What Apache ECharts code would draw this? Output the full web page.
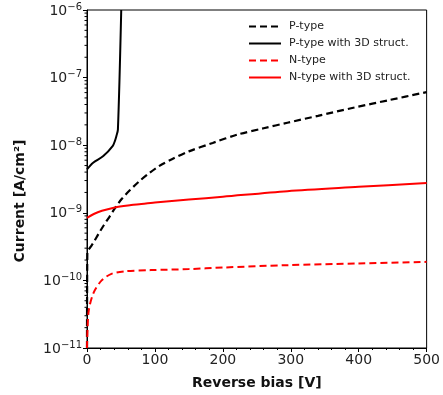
<!DOCTYPE html>
<html>
<head>
<meta charset="utf-8">
<script src="https://cdn.jsdelivr.net/npm/echarts@6/dist/echarts.min.js"></script>
<style>
html,body{margin:0;padding:0;background:#fff;}
#chart{width:443px;height:395px;}
</style>
</head>
<body>
<div id="chart"></div>
<script>
// ---- Data ----
const seriesNames = ['P-type', 'P-type with 3D struct.', 'N-type', 'N-type with 3D struct.'];

const pTypeV = [0, 0.5, 5, 10, 17, 25, 33, 41, 51, 63, 77, 90, 106, 125, 150, 185, 222, 260, 295, 340, 392, 445, 500];
const pTypeI = [1e-11, 2.6e-10, 3.1e-10, 3.7e-10, 4.9e-10, 6.6e-10, 8.7e-10, 1.16e-9, 1.6e-9, 2.15e-9, 2.93e-9, 3.75e-9, 4.9e-9, 6.2e-9, 8.1e-9, 1.08e-8, 1.44e-8, 1.78e-8, 2.15e-8, 2.72e-8, 3.58e-8, 4.65e-8, 6.1e-8];

const p3dV = [0, 9, 24, 38, 41, 43.2, 45.5, 50.4];
const p3dI = [4.4e-9, 5.5e-9, 6.9e-9, 9.8e-9, 1.15e-8, 1.36e-8, 1.7e-8, 1e-6];

const nTypeV = [0, 0.7, 2.6, 9.5, 21.6, 36, 55, 94, 150, 200, 295, 400, 500];
const nTypeI = [1e-11, 1.8e-11, 3.6e-11, 6.5e-11, 1.0e-10, 1.25e-10, 1.36e-10, 1.42e-10, 1.47e-10, 1.55e-10, 1.68e-10, 1.78e-10, 1.88e-10];

const n3dV = [0, 10, 22, 41, 65, 77, 100, 150, 200, 295, 400, 500];
const n3dI = [8.4e-10, 9.6e-10, 1.07e-9, 1.2e-9, 1.3e-9, 1.34e-9, 1.42e-9, 1.57e-9, 1.73e-9, 2.09e-9, 2.42e-9, 2.77e-9];

const xTicks = [0, 100, 200, 300, 400, 500];
const yMinorTicks = [];
for (let e = -11; e <= -7; e++) for (let m = 2; m <= 9; m++) yMinorTicks.push(m * Math.pow(10, e));

function pairs(xs, ys) { return xs.map((x, i) => [x, ys[i]]); }

const FONT = 'DejaVu Sans';
const chart = echarts.init(document.getElementById('chart'), null, {renderer: 'canvas'});

function lineSeries(name, xs, ys, color, dashed, width) {
  return {
    name: name,
    type: 'line',
    data: pairs(xs, ys),
    symbol: 'none',
    showSymbol: false,
    smooth: 0.3,
    clip: true,
    lineStyle: {color: color, width: width, type: dashed ? [7, 4] : 'solid'},
    itemStyle: {color: color},
    z: 3
  };
}

const option = {
  animation: false,
  backgroundColor: '#fff',
  grid: {left: 87, right: 12, top: 10, bottom: 47, show: true, borderColor: '#000', borderWidth: 1, containLabel: false},
  legend: {
    data: seriesNames,
    orient: 'vertical',
    left: 248,
    top: 21,
    padding: 0,
    itemWidth: 32,
    itemHeight: 12,
    itemGap: 6,
    itemStyle: {opacity: 0},
    textStyle: {fontFamily: FONT, fontSize: 11, color: '#222', padding: [0, 0, 0, 3]}
  },
  xAxis: {
    type: 'value',
    min: 0, max: 500, interval: 100,
    name: 'Reverse bias [V]',
    nameLocation: 'middle',
    nameGap: 28,
    nameTextStyle: {fontFamily: FONT, fontSize: 14, fontWeight: 'bold', color: '#111'},
    axisLine: {show: true, lineStyle: {color: '#000', width: 1}},
    axisTick: {show: true, length: 4, lineStyle: {color: '#000'}},
    minorTick: {show: true, splitNumber: 5, length: 2, lineStyle: {color: '#000'}},
    splitLine: {show: false},
    axisLabel: {fontFamily: FONT, fontSize: 14, color: '#222', margin: 5,
      formatter: v => xTicks.indexOf(v) >= 0 ? String(v) : ''}
  },
  yAxis: {
    type: 'log',
    logBase: 10,
    min: 1e-11, max: 1e-6,
    name: 'Current [A/cm²]',
    nameLocation: 'middle',
    nameGap: 60,
    nameTextStyle: {fontFamily: FONT, fontSize: 14, fontWeight: 'bold', color: '#111', padding: [0, 44, 0, 0]},
    axisLine: {show: true, lineStyle: {color: '#000', width: 1}},
    axisTick: {show: true, length: 4, lineStyle: {color: '#000'}},
    splitLine: {show: false},
    axisLabel: {
      margin: 5,
      formatter: v => {
        const e = Math.round(Math.log10(v));
        return '{b|10}{s|−' + (-e) + '}';
      },
      rich: {
        b: {fontFamily: FONT, fontSize: 14, color: '#222', lineHeight: 16, verticalAlign: 'bottom'},
        s: {fontFamily: FONT, fontSize: 10, color: '#222', lineHeight: 10, verticalAlign: 'top'}
      }
    }
  },
  series: [
    lineSeries(seriesNames[0], pTypeV, pTypeI, '#000', true, 2.2),
    lineSeries(seriesNames[1], p3dV, p3dI, '#000', false, 2),
    lineSeries(seriesNames[2], nTypeV, nTypeI, '#ff0000', true, 2),
    lineSeries(seriesNames[3], n3dV, n3dI, '#ff0000', false, 2),
    {
      name: 'yMinorTicks',
      type: 'custom',
      silent: true,
      clip: false,
      data: yMinorTicks.map(v => [0, v]),
      renderItem: (params, api) => {
        const p = api.coord([0, api.value(1)]);
        return {type: 'line', shape: {x1: p[0] - 2.5, y1: p[1], x2: p[0], y2: p[1]}, style: {stroke: '#000', lineWidth: 1}};
      },
      z: 4
    }
  ]
};
chart.setOption(option);
</script>
</body>
</html>
